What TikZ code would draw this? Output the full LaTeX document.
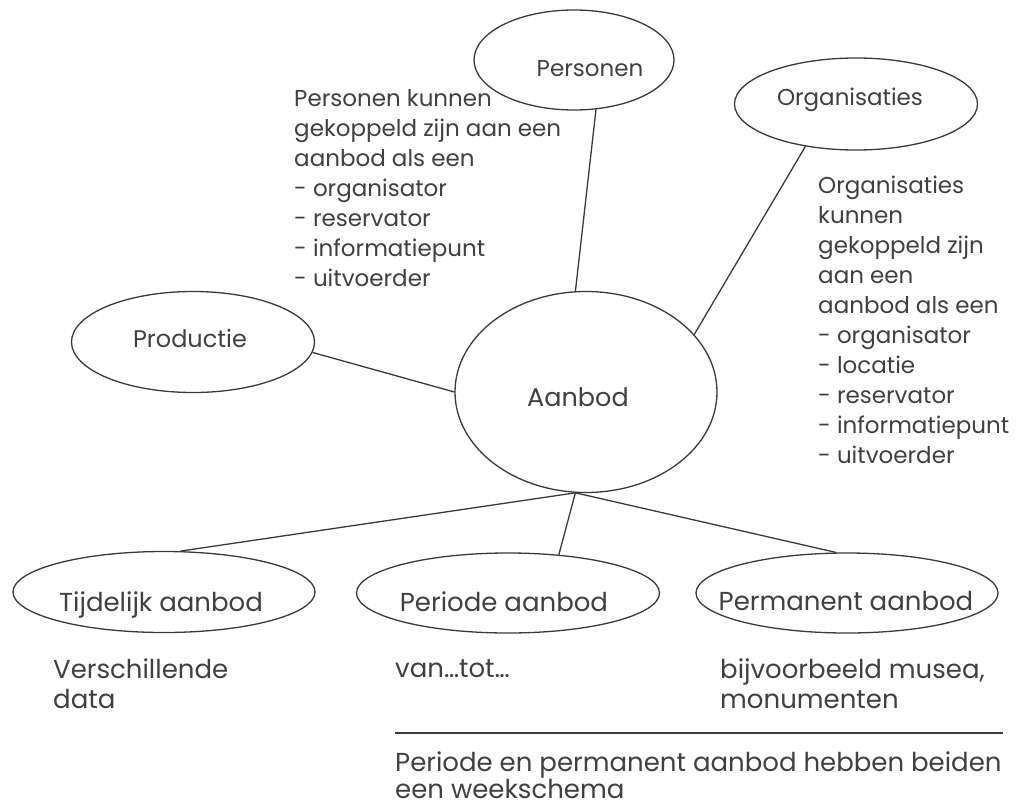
\documentclass[tikz,border=0pt]{standalone}
\usepackage{fontspec}
\setmainfont{Poppins}
\usetikzlibrary{shapes.geometric}
\definecolor{ink}{HTML}{3A3A3A}
\definecolor{txt}{HTML}{404040}
\tikzset{
  oval/.style={ellipse, draw=ink, line width=1.3pt, inner sep=0pt},
  link/.style={draw=ink, line width=1.3pt},
  lbl/.style={anchor=base, inner sep=0pt, text=txt},
  upper/.style={font=\fontsize{23}{30}\selectfont},
  lower/.style={font=\fontsize{26}{30}\selectfont},
  note/.style={anchor=base west, inner sep=0pt, text=txt, align=left},
}
\begin{document}
\begin{tikzpicture}[x=1pt,y=-1pt]
\useasboundingbox (0,0) rectangle (1021,809);
% ellipses
\node[oval, minimum width=200pt, minimum height=100pt] (personen) at (574,60) {};
\node[oval, minimum width=243pt, minimum height=92pt] (organisaties) at (856,104) {};
\node[oval, minimum width=243pt, minimum height=101pt] (productie) at (193,342) {};
\node[oval, minimum width=262pt, minimum height=201pt] (aanbod) at (586,392) {};
\node[oval, minimum width=302pt, minimum height=81pt] (tijdelijk) at (164,592) {};
\node[oval, minimum width=303pt, minimum height=80pt] (periode) at (508,593) {};
\node[oval, minimum width=302pt, minimum height=80pt] (permanent) at (847,593) {};
% ellipse labels
\node[lbl, upper] (personenT) at (590,76) {Personen};
\node[lbl, upper] (organisatiesT) at (850,105) {Organisaties};
\node[lbl, font=\fontsize{24}{30}\selectfont] (productieT) at (190,347) {Productie};
\node[lbl, font=\fontsize{25.5}{30}\selectfont] (aanbodT) at (578,406) {Aanbod};
\node[lbl, lower] (tijdelijkT) at (161,611) {Tijdelijk aanbod};
\node[lbl, lower] (periodeT) at (504,611) {Periode aanbod};
\node[lbl, lower] (permanentT) at (846,610) {Permanent aanbod};
% connectors
\draw[link] (personen.294) -- (aanbod.96);
\draw[link] (organisaties.220) -- (aanbod.28);
\draw[link] (productie.355) -- (aanbod.180);
\draw[link] (aanbod.264) -- (tijdelijk.68);
\draw[link] (aanbod.264) -- (periode.37);
\draw[link] (aanbod.264) -- (permanent.105);
% notes
\node[note, upper] (pnote) at (294,286) {Personen kunnen\\gekoppeld zijn aan een\\aanbod als een\\- organisator\\- reservator\\- informatiepunt\\- uitvoerder};
\node[note, upper] (onote) at (818,463) {Organisaties\\kunnen\\gekoppeld zijn\\aan een\\aanbod als een\\- organisator\\- locatie\\- reservator\\- informatiepunt\\- uitvoerder};
\node[note, lower] (tnote) at (53,708) {Verschillende\\data};
\node[note, lower] (vnote) at (395,677) {van…tot…};
\node[note, lower] (bnote) at (720,708) {bijvoorbeeld musea,\\monumenten};
\coordinate (ruleL) at (395,733);
\coordinate (ruleR) at (1003,733);
\draw[link] (ruleL) -- (ruleR);
\node[note, font=\fontsize{26}{25}\selectfont] (wnote) at (395,798) {Periode en permanent aanbod hebben beiden\\een weekschema};
\end{tikzpicture}
\end{document}
